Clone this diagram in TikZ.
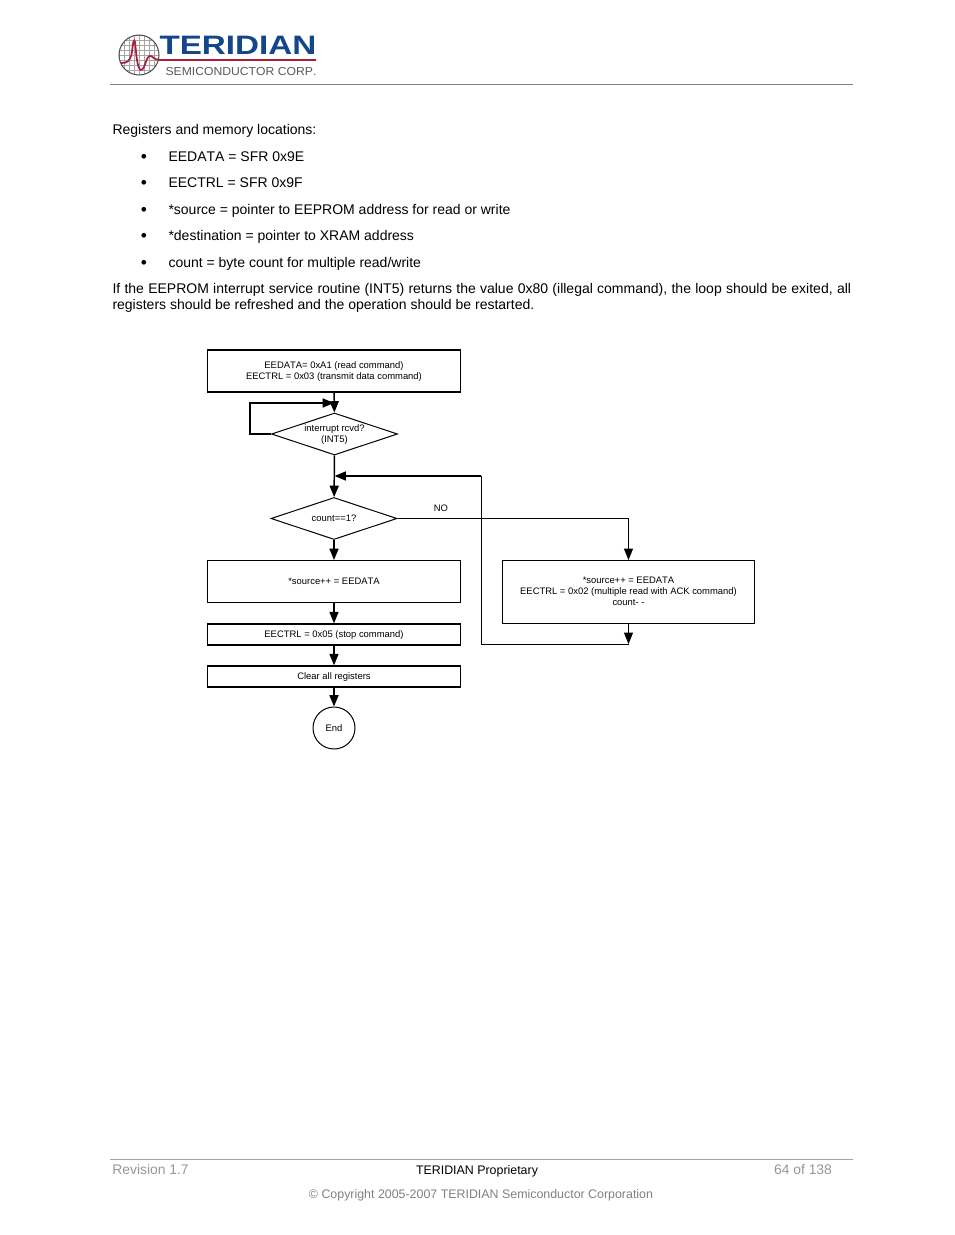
\documentclass[tikz,border=0pt]{standalone}
\usepackage{fontspec}
\setmainfont[Kerning=Off]{Liberation Sans}
\usetikzlibrary{arrows.meta,shapes.geometric}

\definecolor{logoblue}{RGB}{20,70,140}
\definecolor{logored}{RGB}{170,30,60}
\definecolor{footgray}{RGB}{150,150,150}
\newcommand{\dropline}[1]{\raisebox{-0.75pt}[1ex][0.3ex]{#1}}

\tikzset{
    every picture/.style={line width=0.75pt},
    bodytext/.style={anchor=base west,inner sep=0pt,font=\fontsize{10.5}{12}\selectfont},
    bullettext/.style={anchor=base,inner sep=0pt,font=\fontsize{13}{12}\selectfont},
    foottext/.style={anchor=base,inner sep=0pt,font=\fontsize{9.3}{11}\selectfont},
    greyfoot/.style={anchor=base,inner sep=0pt,text=footgray,font=\fontsize{10.4}{12}\selectfont},
    flowbox/.style={draw,inner sep=0pt,minimum width=189.75pt,align=center,font=\fontsize{7.07}{8.25}\selectfont},
    heavybox/.style={flowbox,line width=1.1pt},
    flowdiamond/.style={draw,diamond,aspect=3,inner sep=0pt,minimum width=94.5pt,minimum height=31.5pt,align=center,font=\fontsize{7.07}{8.25}\selectfont},
    flowcircle/.style={draw,circle,inner sep=0pt,minimum size=31.5pt,font=\fontsize{7.07}{8.25}\selectfont},
    flowarrow/.style={line width=1.1pt,-{Triangle[width=6.75pt,length=8.5pt]}},
    thinarrow/.style={line width=0.75pt,-{Triangle[width=6.75pt,length=8.5pt]}}
}

\begin{document}
\begin{tikzpicture}[x=0.75pt,y=0.75pt,yscale=-1,xscale=1]
    \useasboundingbox (0,0) rectangle (954,1235);

    %Logo globe
    \coordinate (globe) at (139,55);
    \begin{scope}
        \clip (globe) circle (20);
        \foreach \gridx in {119,124,...,159} {\draw [gray!70,line width=0.4pt] (\gridx,35) -- (\gridx,75);}
        \foreach \gridy in {35,40,...,75} {\draw [gray!70,line width=0.4pt] (119,\gridy) -- (159,\gridy);}
    \end{scope}
    \draw [gray!60!black] (globe) circle (20);
    %Logo pulse
    \draw [logored,line width=1.3pt] (121,63) .. controls (127,63) and (130,62) .. (132,52) .. controls (133,42) and (134,38) .. (135,42) .. controls (136,50) and (137,70) .. (141,70) .. controls (145,70) and (146,56) .. (150,56) .. controls (153,56) and (154,60) .. (160,60) -- (316,60);
    % Text Node
    \draw (159,54) node (logoName) [anchor=base west,inner sep=0pt,text=logoblue,font=\bfseries\fontsize{20}{20}\selectfont] {\scalebox{1.245}[1]{TERIDIAN}};
    % Text Node
    \draw (165,75) node (logoSub) [anchor=base west,inner sep=0pt,text=black!65,font=\fontsize{8.7}{10}\selectfont] {\scalebox{1.05}[1]{SEMICONDUCTOR CORP.}};
    %Header rule
    \draw [gray,line width=0.6pt] (110,84.5) -- (853,84.5);

    % Text Node
    \draw (112,134) node (introLine) [bodytext] {Registers and memory locations:};
    % Bullet list
    \foreach \ypos/\itemname/\itemtext in {161/itemData/{EEDATA = SFR 0x9E},187/itemCtrl/{EECTRL = SFR 0x9F},214/itemSource/{*source = pointer to EEPROM address for read or write},240/itemDest/{*destination = pointer to XRAM address},267/itemCount/{count = byte count for multiple read{/}write}} {
        \draw (144,\ypos+1) node (\itemname Dot) [bullettext] {•};
        \draw (168,\ypos) node (\itemname) [bodytext] {\itemtext};
    }
    % Text Node
    \draw (112,293) node (paraOne) [bodytext] {\makebox[554pt][s]{If the EEPROM interrupt service routine (INT5) returns the value 0x80 (illegal command), the loop should be exited, all}};
    % Text Node
    \draw (112,309) node (paraTwo) [bodytext] {registers should be refreshed and the operation should be restarted.};

    %Flow nodes
    \draw (334,371) node (boxRead) [heavybox,minimum height=31.5pt] {\dropline{EEDATA= 0xA1 (read command)}\\\dropline{EECTRL = 0x03 (transmit data command)}};
    \draw (334.5,434) node (askInt) [flowdiamond] {\dropline{interrupt rcvd?}\\\dropline{(INT5)}};
    \draw (334,518.5) node (askCount) [flowdiamond] {count==1?};
    \draw (334,581.5) node (boxSource) [flowbox,minimum height=31.5pt] {*source++ = EEDATA};
    \draw (334,634.5) node (boxStop) [heavybox,minimum height=15.75pt] {\dropline{EECTRL = 0x05 (stop command)}};
    \draw (334,676.5) node (boxClear) [heavybox,minimum height=15.75pt] {\dropline{Clear all registers}};
    \draw (334,728) node (endNode) [flowcircle] {End};
    \draw (628.5,592) node (boxMulti) [flowbox,minimum width=189pt,minimum height=47.25pt] {\raisebox{0.7pt}{*source++ = EEDATA}\\\raisebox{0.7pt}{EECTRL = 0x02 (multiple read with ACK command)}\\\raisebox{0.7pt}{count- -}};
    % Text Node
    \draw (441,508) node (labelNo) [inner sep=0pt,font=\fontsize{7.07}{8.25}\selectfont] {NO};

    %Free ends
    \coordinate (loopJoin) at (boxRead.south |- 0,403);
    \coordinate (loopBack) at (250,434);
    \coordinate (loopTop) at (250,403);
    \coordinate (returnJoin) at (askInt.south |- 0,476);
    \coordinate (returnBase) at (boxMulti.south |- 0,644);
    \coordinate (returnLeft) at (481,644);
    \coordinate (returnTop) at (481,476);
    \coordinate (multiTop) at (boxMulti.north |- askCount.east);

    %Connectors
    \draw [flowarrow] (boxRead) -- (askInt);
    \draw [flowarrow] (askInt.west) -- (loopBack) -- (loopTop) -- (loopJoin);
    \draw [flowarrow] (askInt) -- (askCount);
    \draw [flowarrow] (askCount) -- (boxSource);
    \draw [flowarrow] (boxSource) -- (boxStop);
    \draw [flowarrow] (boxStop) -- (boxClear);
    \draw [flowarrow] (boxClear) -- (endNode);
    \draw [thinarrow] (askCount.east) -- (multiTop) -- (boxMulti.north);
    \draw [thinarrow] (boxMulti.south) -- (returnBase);
    \draw (returnBase) -- (returnLeft) -- (returnTop);
    \draw [flowarrow] (returnTop) -- (returnJoin);

    %Footer
    \draw [black!35,line width=0.6pt] (110,1159.5) -- (853,1159.5);
    \draw (150.5,1174) node (footRev) [greyfoot] {Revision 1.7};
    \draw (477,1174) node (footProp) [foottext] {TERIDIAN Proprietary};
    \draw (803,1174) node (footPage) [greyfoot] {64 of 138};
    \draw (481,1198) node (footCopy) [foottext,text=black!50] {© Copyright 2005-2007 TERIDIAN Semiconductor Corporation};
\end{tikzpicture}
\end{document}
